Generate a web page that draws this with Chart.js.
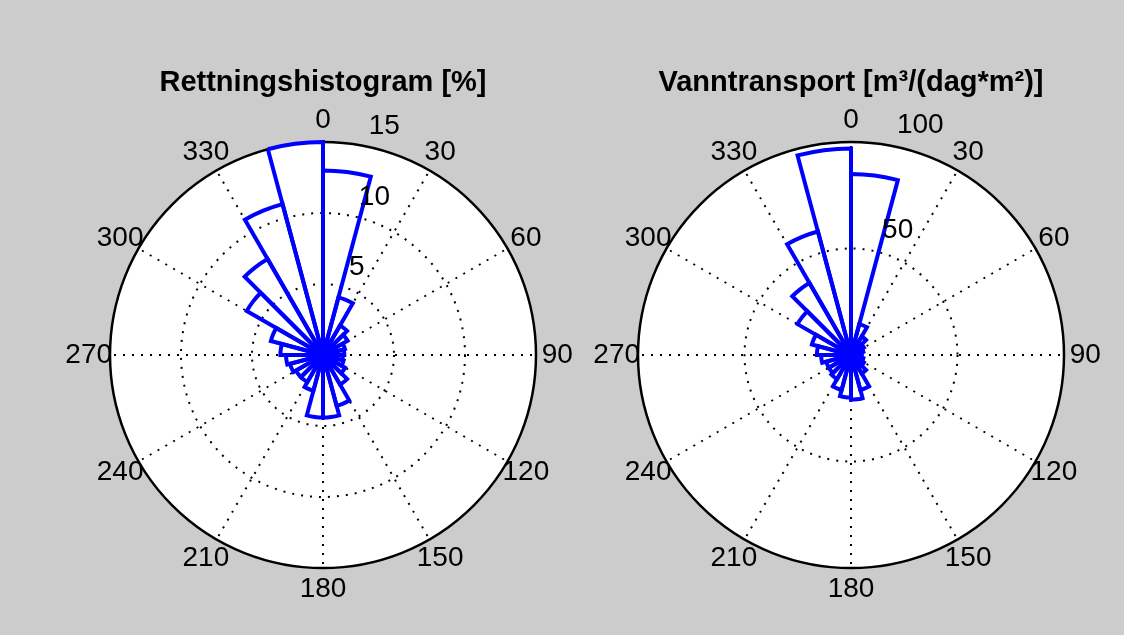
<!DOCTYPE html>
<html>
<head>
<meta charset="utf-8">
<script src="https://cdn.jsdelivr.net/npm/chart.js@4.4.0/dist/chart.umd.min.js"></script>
<style>
  html, body { margin: 0; padding: 0; background: #cccccc; }
  #wrap { position: relative; width: 1124px; height: 635px; overflow: hidden; }
  canvas { position: absolute; top: 0; }
</style>
</head>
<body>
<div id="wrap">
  <canvas id="rose1" width="600" height="635" style="left:0"></canvas>
  <canvas id="rose2" width="600" height="635" style="left:524px"></canvas>
</div>
<script>
// bin start angles (degrees, clockwise from north), 15 degree bins
const binLabels = ['0', '15', '30', '45', '60', '75', '90', '105', '120', '135', '150', '165',
    '180', '195', '210', '225', '240', '255', '270', '285', '300', '315', '330', '345'];

// direction histogram [%]
const pctValues = [13.0, 4.2, 2.4, 2.0, 1.6, 1.5, 1.4, 1.5, 1.8, 2.4, 3.7, 4.4,
    4.4, 2.6, 2.2, 2.2, 2.4, 2.6, 3.0, 3.8, 6.2, 7.8, 11.0, 15.0];

// water transport [m3/(dag*m2)]
const transportValues = [85, 15, 10, 7, 6, 5, 5, 6, 7, 10, 17, 21,
    20, 17, 13, 12, 12, 14, 16, 19, 29, 39, 60, 97];

const angleLabels = ['0', '30', '60', '90', '120', '150', '180', '210', '240', '270', '300', '330'];
const pctTicks = [5, 10, 15];
const transportTicks = [50, 100];

const fontFamily = '"Liberation Sans", Arial, sans-serif';

function labelPlugin(ticks) {
    const step = ticks[1] - ticks[0];
    return {
        id: 'roseLabels',
        afterDatasetsDraw(chart) {
            const scale = chart.scales.r;
            const ctx = chart.ctx;
            ctx.save();
            ctx.fillStyle = '#000';
            ctx.font = '28px ' + fontFamily;

            // angle labels, centred at 1.1 * radius
            ctx.textAlign = 'center';
            ctx.textBaseline = 'middle';
            const binWidth = 360 / binLabels.length;
            angleLabels.forEach((txt) => {
                const p = scale.getPointPosition(Number(txt) / binWidth, scale.drawingArea * 1.1);
                ctx.fillText(txt, p.x, p.y);
            });

            // radial tick labels, 8 degrees right of north (matlab style)
            const a = 8 * Math.PI / 180;
            ctx.textAlign = 'left';
            ctx.textBaseline = 'bottom';
            ticks.forEach((v) => {
                const d = scale.getDistanceFromCenterForValue(v + step / 20);
                ctx.fillText('  ' + v, scale.xCenter + d * Math.sin(a), scale.yCenter - d * Math.cos(a));
            });
            ctx.restore();
        }
    };
}

function roseChart(canvasId, titleText, values, ticks, padLeft, padRight) {
    const rMax = ticks[ticks.length - 1];
    return new Chart(document.getElementById(canvasId), {
        type: 'polarArea',
        data: {
            labels: binLabels,
            datasets: [{
                data: values,
                backgroundColor: 'rgba(0,0,0,0)',
                borderColor: '#0000ff',
                borderWidth: 4,
                borderJoinStyle: 'miter'
            }]
        },
        options: {
            responsive: false,
            animation: false,
            layout: { padding: { left: padLeft, right: padRight, top: 66, bottom: 66 } },
            plugins: {
                legend: { display: false },
                tooltip: { enabled: false },
                title: {
                    display: true,
                    text: titleText,
                    color: '#000',
                    font: { family: fontFamily, size: 29, weight: 'bold' },
                    padding: { top: 0, bottom: 42 }
                }
            },
            scales: {
                r: {
                    min: 0,
                    max: rMax,
                    startAngle: 0,
                    backgroundColor: '#ffffff',
                    ticks: { display: false, stepSize: ticks[0] },
                    pointLabels: { display: false },
                    grid: {
                        circular: true,
                        color: '#000',
                        lineWidth: (c) => (c.tick && c.tick.value === rMax ? 2.5 : 2),
                        borderDash: (c) => (c.tick && c.tick.value === rMax ? [] : [2, 7])
                    },
                    border: {
                        dash: (c) => (c.tick && c.tick.value === rMax ? [] : [2, 7])
                    },
                    angleLines: {
                        display: true,
                        color: '#000',
                        lineWidth: (c) => (Number(binLabels[c.index]) % 30 === 0 ? 2 : 0),
                        borderDash: [2, 7]
                    }
                }
            }
        },
        plugins: [labelPlugin(ticks)]
    });
}

roseChart('rose1', 'Rettningshistogram [%]', pctValues, pctTicks, 110, 64);
roseChart('rose2', 'Vanntransport [m³/(dag*m²)]', transportValues, transportTicks, 114, 60);
</script>
</body>
</html>
